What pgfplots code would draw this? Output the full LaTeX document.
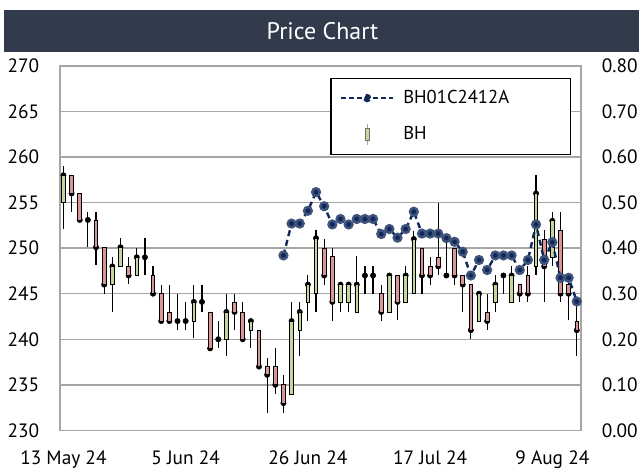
\documentclass[border=0pt]{standalone}
\usepackage{fontspec}
\setmainfont{PT Sans}
\usepackage{pgfplots}
\pgfplotsset{compat=1.18}
\usepackage{pgfplotstable}

\definecolor{barbg}{HTML}{323B4C}
\definecolor{upc}{HTML}{C4D79B}
\definecolor{dnc}{HTML}{D99694}
\definecolor{navy}{HTML}{10285A}
\definecolor{gridc}{HTML}{A6A6A6}

\pgfplotstableread{
d o h l c
0 255.0 259.0 252.1 258.0
1 258.0 258.0 254.0 256.0
2 256.0 256.0 253.1 253.1
3 253.1 254.0 250.1 253.1
4 253.1 254.0 248.1 250.1
5 250.1 250.1 245.0 246.0
6 246.0 249.0 243.0 248.0
7 248.0 251.1 248.0 250.1
8 248.0 249.0 246.1 247.0
9 247.0 250.0 247.0 249.0
10 249.0 251.1 247.0 249.0
11 247.0 248.0 245.0 245.0
12 245.0 246.0 242.0 242.0
13 243.0 246.0 242.0 242.0
14 242.0 245.0 241.0 242.0
15 242.0 244.1 241.0 242.0
16 242.0 246.0 240.1 244.1
17 244.1 246.0 243.0 244.1
18 243.0 243.0 239.0 239.0
19 240.0 242.0 239.0 240.0
20 240.0 245.0 238.2 243.0
21 244.1 245.0 241.0 243.0
22 243.0 244.1 240.0 240.0
23 241.0 242.0 239.0 242.0
24 241.0 241.0 237.0 237.0
25 237.0 238.0 231.9 236.1
26 237.0 239.0 234.0 235.0
27 235.0 236.1 231.9 233.0
28 234.0 244.1 234.0 242.0
29 241.0 244.1 238.2 243.0
30 244.1 247.0 242.0 246.0
31 245.0 252.0 243.0 251.1
32 250.0 251.0 246.0 247.0
33 249.1 250.0 242.0 244.1
34 244.1 246.0 243.0 246.0
35 244.1 246.0 243.0 246.0
36 243.0 249.1 243.0 246.0
37 247.0 248.0 245.0 247.0
38 247.0 248.0 245.0 247.0
39 245.0 246.0 242.0 243.0
40 243.0 247.0 243.0 247.0
41 247.0 247.0 242.1 244.1
42 244.1 248.0 244.1 247.0
43 245.0 251.9 245.0 251.0
44 250.0 250.0 245.0 247.0
45 248.0 249.0 246.0 247.0
46 249.0 255.0 247.0 248.0
47 247.0 251.0 247.0 247.0
48 250.0 250.0 246.0 247.0
49 247.0 247.0 243.0 246.0
50 246.0 246.0 240.0 241.0
51 242.0 245.0 242.0 245.0
52 243.0 245.0 241.0 242.0
53 244.1 247.0 243.0 246.0
54 247.0 247.0 245.0 247.0
55 244.1 248.0 244.1 247.0
56 246.0 246.0 244.1 245.0
57 247.0 248.0 244.1 245.0
58 248.0 258.0 247.0 256.0
59 251.0 252.0 244.1 248.0
60 249.0 254.0 248.0 253.0
61 252.0 254.0 244.1 245.0
62 246.0 247.0 242.1 245.0
63 242.0 244.0 238.2 241.0
}\candles

\pgfplotstableread{
d r
27 0.384
28 0.454
29 0.454
30 0.482
31 0.523
32 0.492
33 0.452
34 0.464
35 0.452
36 0.464
37 0.464
38 0.464
39 0.431
40 0.442
41 0.423
42 0.442
43 0.480
44 0.432
45 0.432
46 0.432
47 0.422
48 0.414
49 0.392
50 0.340
51 0.374
52 0.352
53 0.384
54 0.384
55 0.384
56 0.352
57 0.374
58 0.452
59 0.374
60 0.413
61 0.335
62 0.335
63 0.283
}\bhline

\pgfplotsset{
  base/.style={
    at={(45pt,27.75pt)}, anchor=south west, scale only axis,
    width=391.5pt, height=273.75pt,
    xmin=-0.43, xmax=63.54,
  },
  tfont/.style={font=\fontsize{14.5}{16}\selectfont},
  linelegend/.style={legend image code/.code={
    \draw[navy, line width=1.3pt, dash pattern=on 3.5pt off 2.5pt] (0pt,0pt) -- (39pt,0pt);
    \fill[navy] (19.5pt,0pt) circle (2.2pt);}},
  candlelegend/.style={legend image code/.code={
    \draw[gridc, line width=0.8pt] (19.5pt,-8pt) -- (19.5pt,8pt);
    \draw[fill=upc, draw=black!55, line width=0.5pt] (17.8pt,-4.5pt) rectangle (21.2pt,4.5pt);}},
}

\begin{document}
\begin{tikzpicture}[x=0.75pt,y=0.75pt]
\fill[white] (0,0) rectangle (642,468);
\fill[barbg] (4,416) rectangle (640,458);
\node[white, font=\fontsize{18}{20}\selectfont] at (323,437) {Price Chart};

% axis 1: grid, left axis, dates, wicks
\begin{axis}[base,
  ymin=230, ymax=270,
  ytick={230,235,240,245,250,255,260,265,270},
  xtick={0,15,30,45,60},
  xticklabels={13 May 24,5 Jun 24,26 Jun 24,17 Jul 24,9 Aug 24},
  major tick length=0pt,
  ymajorgrids,
  grid style={gridc, line width=1.1pt},
  axis line style={gridc, line width=1.1pt},
  tick label style={tfont},
  /pgf/number format/assume math mode=true,
  yticklabel style={xshift=-12pt},
  xticklabel style={yshift=-12pt},
  clip=false,
]
\addplot[only marks, mark=none,
  error bars/.cd, y dir=both, y explicit, error mark=none,
  error bar style={black, line width=0.9pt}]
  table[x=d, y=c, y error plus expr=\thisrow{h}-\thisrow{c}, y error minus expr=\thisrow{c}-\thisrow{l}]{\candles};
\end{axis}

% axis 2: candle bodies
\begin{axis}[base, hide axis, ymin=230, ymax=270, ybar stacked, bar width=0.45]
\addplot[draw=none, fill=none] table[x=d, y expr={min(\thisrow{o},\thisrow{c})}]{\candles};
\addplot[fill=upc, draw=black, line width=0.6pt] table[x=d, y expr={max(\thisrow{c}-\thisrow{o},0)}]{\candles};
\addplot[fill=dnc, draw=black, line width=0.6pt] table[x=d, y expr={max(\thisrow{o}-\thisrow{c},0)}]{\candles};
\end{axis}

% axis 3: right axis, line, legend
\begin{axis}[base,
  ymin=0, ymax=0.8,
  axis x line=none,
  axis y line*=right,
  axis line style={draw=none},
  ytick={0,0.1,0.2,0.3,0.4,0.5,0.6,0.7,0.8},
  major tick length=0pt,
  tick label style={tfont},
  /pgf/number format/assume math mode=true,
  yticklabel style={/pgf/number format/.cd, fixed, fixed zerofill, precision=2, /tikz/.cd, xshift=12pt},
  legend style={at={(0.519,0.967)}, anchor=north west, draw=black, line width=0.8pt, fill=white,
    font=\fontsize{14}{16}\selectfont, row sep=11pt, inner xsep=7pt, inner ysep=7pt,
    /tikz/every odd column/.style={column sep=5pt}},
  legend cell align=left,
]
\addplot[navy, line width=1.8pt, dash pattern=on 4.5pt off 3pt, mark=*, mark size=2.9pt,
  mark options={solid, fill=navy, draw=navy!80}, linelegend]
  table[x=d, y=r]{\bhline};
\addlegendentry{BH01C2412A\hspace*{37pt}}
\addlegendimage{candlelegend}
\addlegendentry{BH}
\end{axis}
\end{tikzpicture}
\end{document}
